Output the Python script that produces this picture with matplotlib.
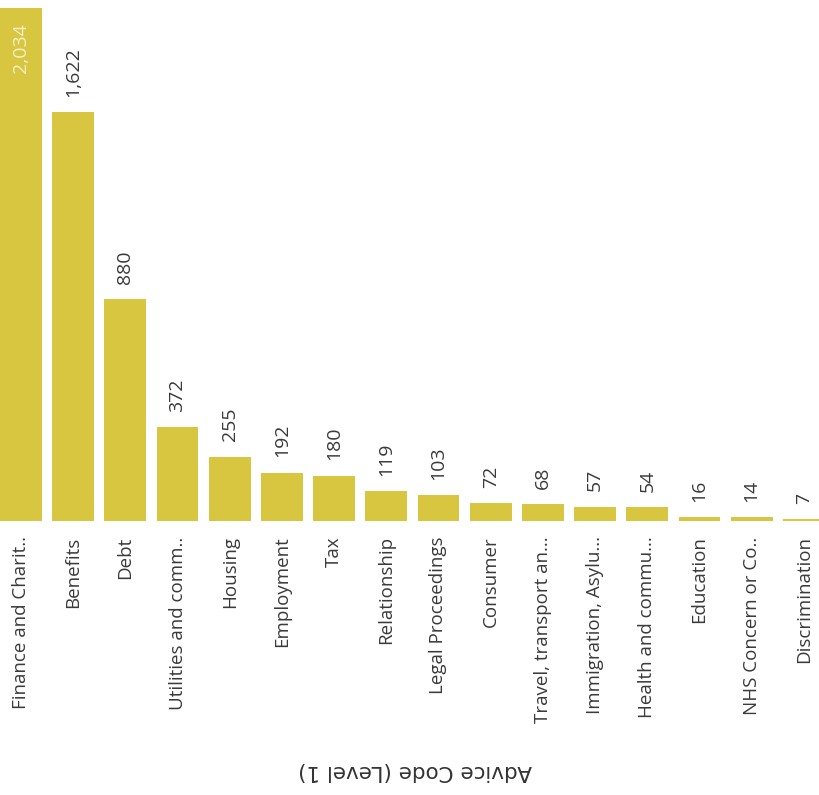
import numpy as np
from matplotlib import pyplot as plt

# advice codes (level 1) and counts
categories = ["Finance and Charit..", "Benefits", "Debt", "Utilities and comm..",
              "Housing", "Employment", "Tax", "Relationship", "Legal Proceedings",
              "Consumer", "Travel, transport an...", "Immigration, Asylu...",
              "Health and commu...", "Education", "NHS Concern or Co..",
              "Discrimination"]
counts = [2034, 1622, 880, 372, 255, 192, 180, 119, 103, 72, 68, 57, 54, 16, 14, 7]
axis_title = "Advice Code (Level 1)"

bar_color = '#D8C640'
text_color = '#3a3a3a'

plt.rcParams['font.family'] = ['Open Sans', 'DejaVu Sans']

fig = plt.figure(figsize=(8.2, 7.95), dpi=100)
ax = fig.add_axes([0, 274/795, 1, 521/795])

x = np.arange(len(categories))
bars = ax.bar(x, counts, width=0.8, color=bar_color, zorder=2)

ax.set_xlim(-0.402, 15.31)
ax.set_ylim(0, 2066)

# data labels: the tallest one sits inside its bar
for i, v in enumerate(counts):
    lbl = "{:,}".format(v)
    if i == 0:
        ax.annotate(lbl, (x[i], v), xytext=(0, -11), textcoords='offset points',
                    rotation=90, ha='center', va='top', fontsize=14,
                    color='#f4efc8')
    else:
        ax.annotate(lbl, (x[i], v), xytext=(0, 11), textcoords='offset points',
                    rotation=90, ha='center', va='bottom', fontsize=14,
                    color=text_color)

ax.set_xticks(x)
ax.set_xticklabels(categories, rotation=90, fontsize=13.5, color=text_color)
ax.tick_params(axis='x', length=0, pad=11)
ax.set_yticks([])
for s in ax.spines.values():
    s.set_visible(False)

fig.text(415/820, 24/795, axis_title, rotation=180, ha='center', va='center',
         fontsize=15.5, color='#333333', family='DejaVu Sans')

fig.savefig('out.png', dpi=100, facecolor='white')
